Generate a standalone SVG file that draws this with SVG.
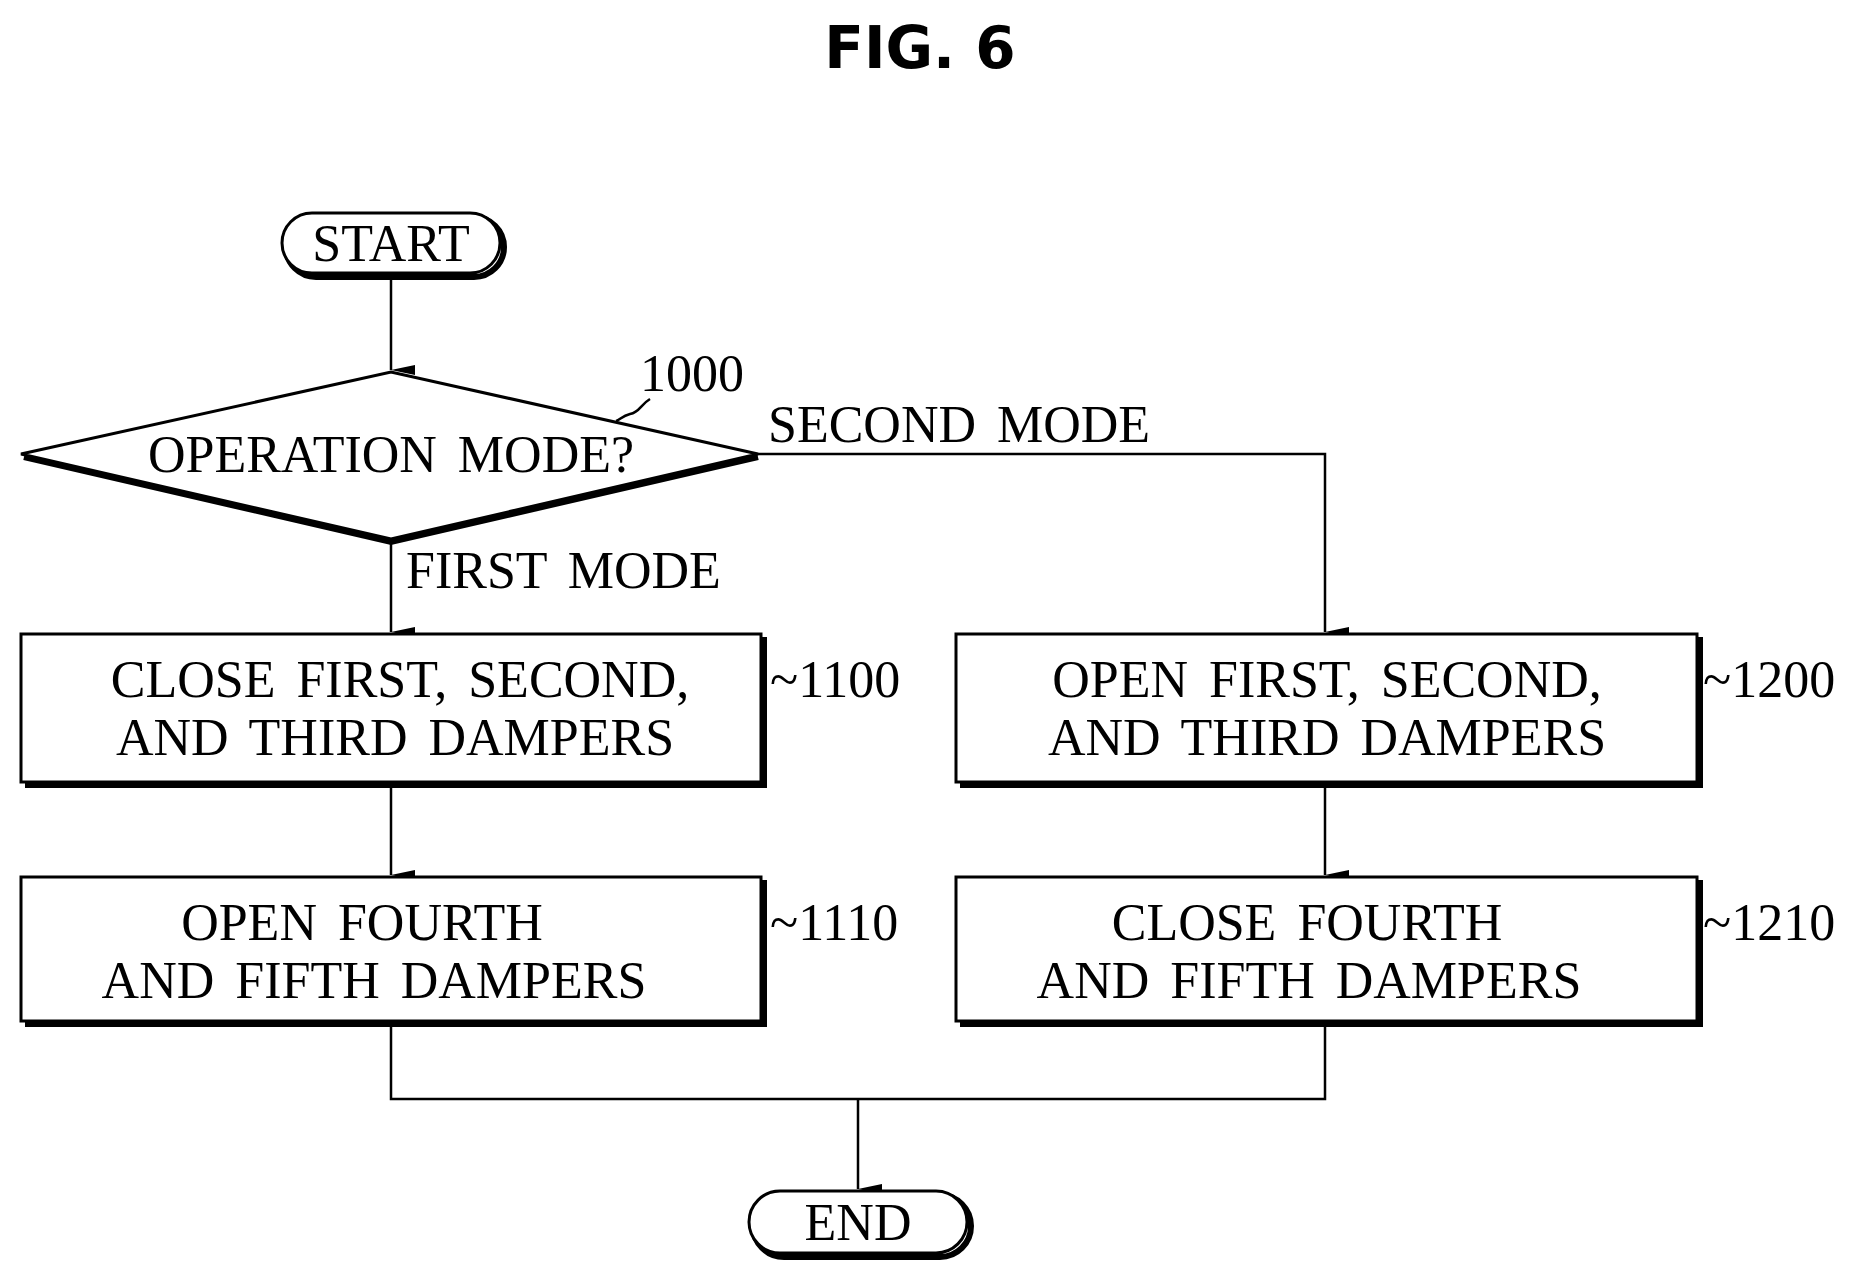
<svg xmlns="http://www.w3.org/2000/svg" width="1852" height="1277" viewBox="0 0 1852 1277">
<style>
.t{font-family:"Liberation Serif",serif;font-size:52px;fill:#000;word-spacing:8px}
.c{text-anchor:middle}
.b{fill:#fff;stroke:#000;stroke-width:3}
.s{fill:none;stroke:#000;stroke-width:6}
.l{fill:none;stroke:#000;stroke-width:2.5}
</style>
<defs><marker id="a" markerWidth="10" markerHeight="24" refX="5" refY="24" orient="auto-start-reverse" markerUnits="userSpaceOnUse" viewBox="0 0 10 24"><path d="M0,0 L10,0 L5,24 Z" fill="#000"/></marker></defs>
<rect width="1852" height="1277" fill="#fff"/>
<text x="920" y="68" text-anchor="middle" font-family="DejaVu Sans,sans-serif" font-weight="bold" font-size="58">FIG. 6</text>
<g id="connectors">
<path class="l" d="M391,276 V370" marker-end="url(#a)"/>
<path class="l" d="M391,539 V632" marker-end="url(#a)"/>
<path class="l" d="M758,454 H1325 V632" marker-end="url(#a)"/>
<path class="l" d="M391,785 V875" marker-end="url(#a)"/>
<path class="l" d="M1325,785 V875" marker-end="url(#a)"/>
<path class="l" d="M391,1024 V1099 H1325 V1024 M858,1099 V1189" marker-end="url(#a)"/>
<text class="t" x="768" y="442">SECOND MODE</text>
<text class="t" x="406" y="588">FIRST MODE</text>
</g>
<g id="start">
<rect x="286" y="217" width="218" height="60" rx="30" class="s" stroke-width="5"/>
<rect x="282" y="213" width="218" height="60" rx="30" class="b"/>
<text class="t c" x="391" y="261">START</text>
</g>
<g id="n1000">
<path d="M24,457 L391,542 L758,457" class="s"/>
<path d="M21,454 L391,372 L758,454 L391,539 Z" class="b"/>
<text class="t c" x="391" y="472">OPERATION MODE?</text>
<text class="t" x="640" y="391">1000</text>
<path class="l" d="M650,399 C640,405 640,412 630,414 C622,416 620,420 616,421"/>
</g>
<g id="n1100">
<path class="s" d="M25,785 H764 V637"/>
<rect x="21" y="634" width="740" height="148" class="b"/>
<text class="t c" x="400" y="697">CLOSE FIRST, SECOND,</text>
<text class="t c" x="395" y="755">AND THIRD DAMPERS</text>
<text class="t" x="770" y="697">~1100</text>
</g>
<g id="n1110">
<path class="s" d="M25,1024 H764 V880"/>
<rect x="21" y="877" width="740" height="144" class="b"/>
<text class="t c" x="362" y="940">OPEN FOURTH</text>
<text class="t c" x="374" y="998">AND FIFTH DAMPERS</text>
<text class="t" x="770" y="940">~1110</text>
</g>
<g id="n1200">
<path class="s" d="M960,785 H1700 V637"/>
<rect x="956" y="634" width="741" height="148" class="b"/>
<text class="t c" x="1327" y="697">OPEN FIRST, SECOND,</text>
<text class="t c" x="1327" y="755">AND THIRD DAMPERS</text>
<text class="t" x="1703" y="697">~1200</text>
</g>
<g id="n1210">
<path class="s" d="M960,1024 H1700 V880"/>
<rect x="956" y="877" width="741" height="144" class="b"/>
<text class="t c" x="1307" y="940">CLOSE FOURTH</text>
<text class="t c" x="1309" y="998">AND FIFTH DAMPERS</text>
<text class="t" x="1703" y="940">~1210</text>
</g>
<g id="end">
<rect x="753" y="1195" width="218" height="62" rx="31" class="s" stroke-width="5"/>
<rect x="749" y="1191" width="218" height="62" rx="31" class="b"/>
<text class="t c" x="858" y="1240">END</text>
</g>
</svg>
